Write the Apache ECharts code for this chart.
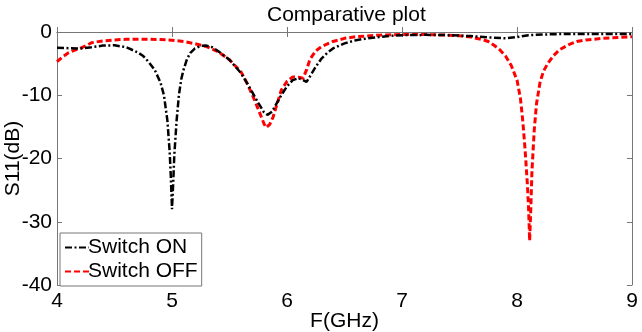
<!DOCTYPE html>
<html>
<head>
<meta charset="utf-8">
<script src="https://cdn.jsdelivr.net/npm/echarts@6/dist/echarts.min.js"></script>
<style>
  html, body { margin: 0; padding: 0; background: #fff; }
  #chart { width: 642px; height: 332px; }
</style>
</head>
<body>
<div id="chart"></div>
<script>
// --- data ---
const freqOn = [4.0, 4.1, 4.2, 4.3, 4.4, 4.5, 4.6, 4.7, 4.75, 4.8, 4.85, 4.9, 4.93, 4.96, 4.98, 4.99, 5.0,
  5.01, 5.02, 5.04, 5.06, 5.08, 5.1, 5.13, 5.16, 5.2, 5.25, 5.3, 5.35, 5.4, 5.5, 5.6, 5.65, 5.7, 5.75,
  5.8, 5.83, 5.87, 5.9, 5.95, 6.0, 6.05, 6.1, 6.14, 6.17, 6.2, 6.25, 6.3, 6.35, 6.4, 6.5, 6.6, 6.7,
  6.8, 6.9, 7.0, 7.2, 7.4, 7.6, 7.75, 7.9, 8.0, 8.1, 8.3, 8.5, 9.0];
const s11On = [-2.5, -2.55, -2.6, -2.4, -2.15, -2.1, -2.4, -3.2, -3.8, -4.8, -6.0, -8.0, -10, -14, -19, -23, -28,
  -24, -19.5, -14, -10, -7.5, -6, -4.3, -3.3, -2.6, -2.2, -2.15, -2.4, -3.0, -4.4, -6.5, -8.0, -9.6, -11.2,
  -12.7, -13.1, -12.6, -11.6, -10, -8.6, -7.6, -7.3, -7.6, -7.9, -7.0, -5.5, -4.2, -3.3, -2.6, -1.8, -1.3, -1.0,
  -0.8, -0.6, -0.5, -0.45, -0.5, -0.65, -0.85, -1.0, -0.8, -0.5, -0.35, -0.3, -0.3];

const freqOff = [4.0, 4.05, 4.1, 4.15, 4.2, 4.25, 4.3, 4.4, 4.5, 4.6, 4.7, 4.8, 4.9, 5.0, 5.1, 5.2, 5.3, 5.4,
  5.5, 5.6, 5.65, 5.7, 5.75, 5.8, 5.82, 5.85, 5.88, 5.92, 5.95, 6.0, 6.05, 6.1, 6.14, 6.17, 6.2, 6.25,
  6.3, 6.4, 6.5, 6.6, 6.8, 7.0, 7.2, 7.4, 7.5, 7.6, 7.7, 7.75, 7.8, 7.85, 7.9, 7.95, 8.0, 8.03, 8.05,
  8.07, 8.09, 8.1, 8.11, 8.12, 8.13, 8.15, 8.17, 8.2, 8.23, 8.27, 8.32, 8.37, 8.45, 8.52, 8.6, 8.75, 9.0];
const s11Off = [-4.7, -3.9, -3.3, -2.9, -2.6, -2.2, -1.7, -1.4, -1.25, -1.15, -1.15, -1.15, -1.2, -1.3, -1.5, -1.85, -2.3, -3.1,
  -4.4, -6.3, -8.0, -10, -12.2, -14.5, -15.1, -14.6, -13.4, -11, -9.2, -7.8, -7.1, -7.15, -7.3, -6.0, -4.3, -3.0,
  -2.3, -1.5, -1.0, -0.75, -0.5, -0.4, -0.4, -0.5, -0.6, -0.8, -1.2, -1.5, -2.1, -2.8, -3.8, -5.3, -7.6, -10.5, -14,
  -18.5, -24, -27.6, -33, -28, -22, -15.5, -11.3, -8, -6.2, -4.9, -3.7, -2.8, -2.0, -1.5, -1.25, -1.0, -0.75];

const xTicks = [4, 5, 6, 7, 8, 9];
const yTicks = [-40, -30, -20, -10, 0];

const FONT = 'Liberation Sans, Arial, sans-serif';
const FONT_SIZE = 21;
const AXIS_COLOR = '#777';

const pairs = (xs, ys) => xs.map((x, i) => [x, ys[i]]);

const chart = echarts.init(document.getElementById('chart'), null, { renderer: 'canvas' });

const baseX = {
  type: 'value',
  min: xTicks[0],
  max: xTicks[xTicks.length - 1],
  interval: 1,
  splitLine: { show: false },
  axisLine: { show: true, lineStyle: { color: AXIS_COLOR, width: 1 } },
  axisTick: { show: true, inside: true, length: 5, lineStyle: { color: AXIS_COLOR } }
};
const baseY = {
  type: 'value',
  min: yTicks[0],
  max: yTicks[yTicks.length - 1],
  interval: 10,
  splitLine: { show: false },
  axisLine: { show: true, lineStyle: { color: AXIS_COLOR, width: 1 } },
  axisTick: { show: true, inside: true, length: 5, lineStyle: { color: AXIS_COLOR } }
};

const option = {
  backgroundColor: '#fff',
  animation: false,
  title: {
    text: 'Comparative plot',
    left: 262,
    top: 0,
    textStyle: { fontFamily: FONT, fontSize: FONT_SIZE, fontWeight: 'normal', color: '#000' }
  },
  grid: { left: 57, right: 10, top: 32, bottom: 47, containLabel: false, outerBoundsMode: 'none' },
  legend: {
    orient: 'vertical',
    left: 60,
    top: 233,
    padding: [4, 4, 4, 4],
    itemGap: 3,
    itemWidth: 24,
    itemHeight: 20,
    backgroundColor: '#fff',
    borderColor: AXIS_COLOR,
    borderWidth: 1,
    itemStyle: { opacity: 0 },
    textStyle: { fontFamily: FONT, fontSize: FONT_SIZE, color: '#000', padding: [0, 0, 0, -6] },
    data: ['Switch ON', 'Switch OFF']
  },
  xAxis: [
    Object.assign({}, baseX, {
      position: 'bottom',
      name: 'F(GHz)',
      nameLocation: 'middle',
      nameGap: 26,
      nameMoveOverlap: false,
      nameTextStyle: { fontFamily: FONT, fontSize: FONT_SIZE, color: '#000' },
      axisLabel: { fontFamily: FONT, fontSize: FONT_SIZE, color: '#000', margin: 6 }
    }),
    Object.assign({}, baseX, { position: 'top', axisLabel: { show: false } })
  ],
  yAxis: [
    Object.assign({}, baseY, {
      position: 'left',
      name: 'S11(dB)',
      nameLocation: 'middle',
      nameGap: 33,
      nameMoveOverlap: false,
      nameTextStyle: { fontFamily: FONT, fontSize: FONT_SIZE, color: '#000' },
      axisLabel: { fontFamily: FONT, fontSize: FONT_SIZE, color: '#000', margin: 5 }
    }),
    Object.assign({}, baseY, { position: 'right', axisLabel: { show: false } })
  ],
  series: [
    {
      name: 'Switch ON',
      type: 'line',
      xAxisIndex: 0,
      yAxisIndex: 0,
      symbol: 'none',
      showSymbol: false,
      smooth: false,
      z: 3,
      lineStyle: { color: '#000', width: 2.5, type: [7, 2.5, 2, 2.5] },
      itemStyle: { color: '#000' },
      data: pairs(freqOn, s11On)
    },
    {
      name: 'Switch OFF',
      type: 'line',
      xAxisIndex: 0,
      yAxisIndex: 0,
      symbol: 'none',
      showSymbol: false,
      smooth: false,
      z: 2,
      lineStyle: { color: '#ff0000', width: 3, type: [6, 3] },
      itemStyle: { color: '#ff0000' },
      data: pairs(freqOff, s11Off)
    }
  ]
};

chart.setOption(option);
</script>
</body>
</html>
